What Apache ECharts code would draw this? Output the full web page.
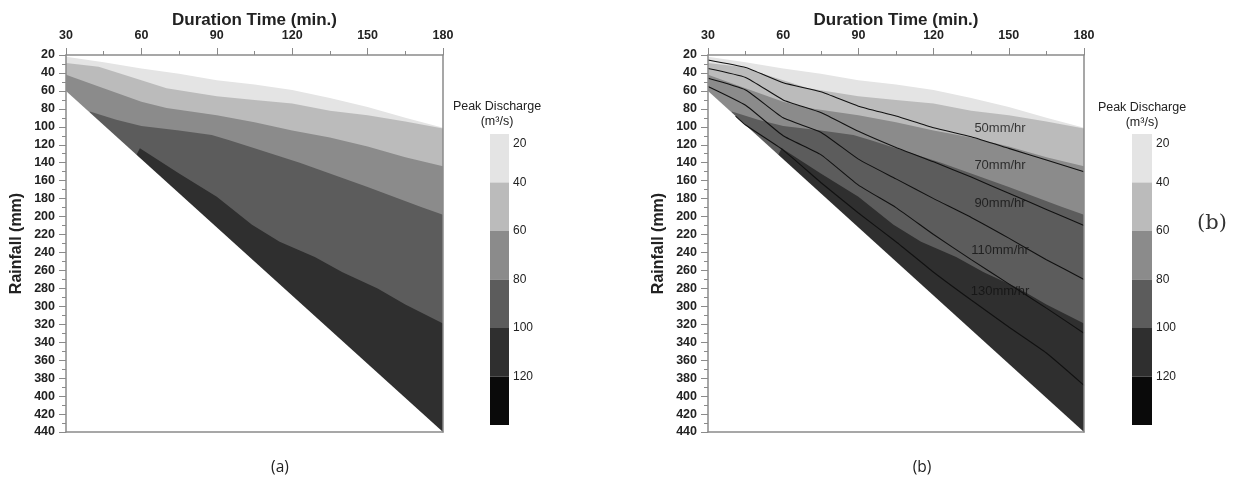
<!DOCTYPE html>
<html>
<head>
<meta charset="utf-8">
<script src="https://cdn.jsdelivr.net/npm/echarts@6/dist/echarts.min.js"></script>
<style>
html, body { margin: 0; padding: 0; background: #fff; }
#chart { width: 1234px; height: 480px; }
</style>
</head>
<body>
<div id="chart"></div>
<script>
// contour boundaries of peak discharge (duration min, rainfall mm)
const q20 = [[30,22],[45,28],[60,35],[75,41],[90,48],[105,53],[120,59],[135,68],[150,78],[165,90],[180,101]];
const q40 = [[30,29],[43,33],[60,48],[70,57],[90,66],[105,70],[120,74],[135,82],[150,87],[165,94],[180,102]];
const q60 = [[30,42],[43,55],[60,72],[70,79],[90,87],[105,95],[120,104],[135,112],[150,122],[165,134],[180,144]];
const q80 = [[39.5,83],[50,92],[60,99],[75,104],[88,109],[95,115],[105,124],[123,140],[150,167],[171,189],[180,198]];
const q100 = [[57.9,132],[59.4,124],[75,152],[90,178],[104,209],[115,228],[129,245],[140,262],[154,280],[165,298],[180,319]];
const domainEdge = [[30,60],[180,440]];

// rainfall intensity lines (panel b)
const durations = [30, 45, 60, 75, 90, 105, 120, 135, 150, 165, 180];
const i50 = [25.6, 34, 51, 61, 77, 88, 101, 111, 124, 137, 150];
const i70 = [35, 45, 70, 84, 105, 123, 139, 156, 174, 192, 210];
const i90 = [46, 59, 90, 106, 136, 158, 180, 201, 224, 248, 270];
const i110 = [55, 76, 110, 131, 165, 190, 220, 248, 275, 302, 330];
const i130 = [[41,88],[45,98],[60,126],[75,162],[90,196],[105,228],[120,262],[135,293],[150,323],[165,352],[180,388]];
const lineNames = ['50mm/hr', '70mm/hr', '90mm/hr', '110mm/hr', '130mm/hr'];
const lineLabelX = [146.5, 146.5, 146.5, 146.5, 146.5];
const lineLabelY = [101.7, 142.5, 185, 238, 283.7];

// color bar
const legendLevels = [20, 40, 60, 80, 100, 120, 140];
const bandColors = ['#e4e4e4', '#bbbbbb', '#8b8b8b', '#5c5c5c', '#2f2f2f', '#0a0a0a'];

const axisGray = '#8a8a8a';
const font = 'Liberation Sans, Arial, sans-serif';

let myChart = echarts.init(document.getElementById('chart'));

function panelAxes(grid) {
    let xs = [
        {
            gridIndex: grid, type: 'value', position: 'top', min: 30, max: 180, interval: 30, z: 10,
            name: 'Duration Time (min.)', nameLocation: 'middle', nameGap: 26, nameMoveOverlap: false,
            nameTextStyle: { fontFamily: font, fontWeight: 'bold', fontSize: 17, color: '#222' },
            axisLine: { onZero: false, lineStyle: { color: axisGray, width: 1.5 } },
            axisTick: { length: 7, lineStyle: { color: axisGray } },
            minorTick: { show: true, splitNumber: 2, length: 4, lineStyle: { color: axisGray } },
            axisLabel: { margin: 13, fontFamily: font, fontWeight: 'bold', fontSize: 12.5, color: '#222' },
            splitLine: { show: false }
        },
        {
            gridIndex: grid, type: 'value', position: 'bottom', min: 30, max: 180, z: 10,
            axisLine: { onZero: false, lineStyle: { color: axisGray, width: 1.5 } },
            axisTick: { show: false }, axisLabel: { show: false }, splitLine: { show: false }
        }
    ];
    let ys = [
        {
            gridIndex: grid, type: 'value', position: 'left', inverse: true, min: 20, max: 440, interval: 20, z: 10,
            name: 'Rainfall (mm)', nameLocation: 'middle', nameGap: 41, nameMoveOverlap: false,
            nameTextStyle: { fontFamily: font, fontWeight: 'bold', fontSize: 16, color: '#222' },
            axisLine: { show: true, onZero: false, lineStyle: { color: axisGray, width: 1.5 } },
            axisTick: { show: true, length: 7, lineStyle: { color: axisGray } },
            minorTick: { show: true, splitNumber: 2, length: 4, lineStyle: { color: axisGray } },
            axisLabel: { margin: 11, fontFamily: font, fontWeight: 'bold', fontSize: 12.5, color: '#222' },
            splitLine: { show: false }
        },
        {
            gridIndex: grid, type: 'value', position: 'right', inverse: true, min: 20, max: 440, z: 10,
            axisLine: { show: true, onZero: false, lineStyle: { color: axisGray, width: 1.5 } },
            axisTick: { show: false }, axisLabel: { show: false }, splitLine: { show: false }
        }
    ];
    return { xs, ys };
}

function barAxes(grid) {
    return {
        x: { gridIndex: grid, type: 'category', data: [''], show: false },
        y: {
            gridIndex: grid, type: 'value', position: 'right', inverse: true,
            min: legendLevels[0], max: legendLevels[legendLevels.length - 1], interval: 20,
            axisLine: { show: false }, axisTick: { show: false }, splitLine: { show: false },
            axisLabel: {
                margin: 4, fontFamily: font, fontSize: 12, color: '#222',
                formatter: function (v) {
                    if (v === legendLevels[legendLevels.length - 1]) return '';
                    if (v === legendLevels[0]) return '{first|' + v + '}';
                    return '' + v;
                },
                rich: { first: { padding: [20, 0, 0, 0], fontFamily: font, fontSize: 12, color: '#222' } }
            }
        }
    };
}

let pa = panelAxes(0), pb = panelAxes(1), ca = barAxes(2), cb = barAxes(3);

function fillSeries(xi, yi) {
    let bounds = [q20, q40, q60, q80, q100, domainEdge];
    let colors = bandColors.slice(0, 5).concat(['#ffffff']);
    return bounds.map(function (b, k) {
        return {
            type: 'line', xAxisIndex: xi, yAxisIndex: yi, data: b, showSymbol: false, silent: true,
            lineStyle: { width: 0 }, areaStyle: { color: colors[k], opacity: 1, origin: 'end' }, z: 1 + k * 0.01
        };
    });
}

function barSeries(xi, yi) {
    let list = [{
        type: 'bar', xAxisIndex: xi, yAxisIndex: yi, stack: 'cb' + xi, barWidth: '100%',
        data: [legendLevels[0]], itemStyle: { color: 'rgba(0,0,0,0)' }, silent: true
    }];
    for (let i = 0; i < legendLevels.length - 1; i++) {
        list.push({
            type: 'bar', xAxisIndex: xi, yAxisIndex: yi, stack: 'cb' + xi, barWidth: '100%',
            data: [legendLevels[i + 1] - legendLevels[i]], itemStyle: { color: bandColors[i] }, silent: true
        });
    }
    return list;
}

let intensityLines = [i50, i70, i90, i110].map(function (arr) {
    return durations.map(function (d, k) { return [d, arr[k]]; });
});
intensityLines.push(i130);

let series = [].concat(fillSeries(0, 0), fillSeries(2, 2));
intensityLines.forEach(function (pts) {
    series.push({
        type: 'line', xAxisIndex: 2, yAxisIndex: 2, data: pts, showSymbol: false, silent: true,
        smooth: 0.15, lineStyle: { color: '#111', width: 1.1 }, z: 3
    });
});
series.push({
    type: 'scatter', xAxisIndex: 2, yAxisIndex: 2, symbolSize: 1, silent: true, z: 4,
    itemStyle: { color: 'rgba(0,0,0,0)' },
    label: { show: true, position: 'inside', formatter: '{b}', fontFamily: font, fontSize: 13, color: '#111' },
    data: lineNames.map(function (n, k) { return { name: n, value: [lineLabelX[k], lineLabelY[k]] }; })
});
series = series.concat(barSeries(4, 4), barSeries(5, 5));

function txt(s, x, y, size, family, color) {
    return {
        type: 'text', x: x, y: y, silent: true,
        style: { text: s, fontSize: size, fontFamily: family, fill: color || '#222', align: 'center', verticalAlign: 'middle' }
    };
}

myChart.setOption({
    animation: false,
    backgroundColor: '#fff',
    grid: [
        { left: 66, top: 55, width: 377, height: 377 },
        { left: 708, top: 55, width: 376, height: 377 },
        { left: 490, top: 134, width: 19, height: 291 },
        { left: 1132, top: 134, width: 20, height: 291 }
    ],
    xAxis: pa.xs.concat(pb.xs, [ca.x, cb.x]),
    yAxis: pa.ys.concat(pb.ys, [ca.y, cb.y]),
    series: series,
    graphic: [
        txt('Peak Discharge', 497, 107, 12.5, font),
        txt('(m³/s)', 497, 122, 12.5, font),
        txt('Peak Discharge', 1142, 108, 12.5, font),
        txt('(m³/s)', 1142, 123, 12.5, font),
        txt('(a)', 280, 468, 15.5, 'Open Sans, sans-serif'),
        txt('(b)', 922, 468, 15.5, 'Open Sans, sans-serif'),
        txt('(b)', 1212, 224, 21, 'DejaVu Serif, serif', '#333')
    ]
});
</script>
</body>
</html>
